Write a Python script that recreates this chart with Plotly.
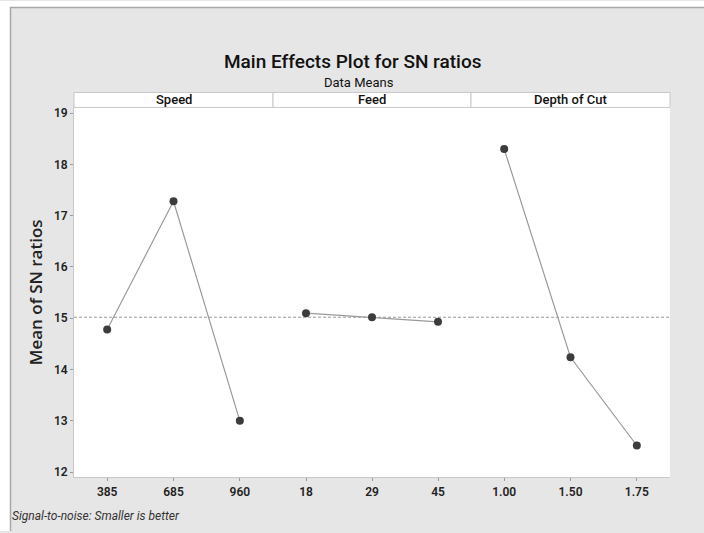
import plotly.graph_objects as go

# ---- data ----
panels = ["Speed", "Feed", "Depth of Cut"]
speed_levels = ["385", "685", "960"]
speed_means = [14.78, 17.28, 13.00]
feed_levels = ["18", "29", "45"]
feed_means = [15.10, 15.02, 14.93]
doc_levels = ["1.00", "1.50", "1.75"]
doc_means = [18.30, 14.24, 12.52]
overall_mean = 15.02
y_ticks = [12, 13, 14, 15, 16, 17, 18, 19]

W, H = 704, 533
FONT = "Roboto, Noto Sans, sans-serif"
div_px = [74, 273, 471, 670]
top_px, bot_px = 107, 479
strip_top_px = 92

def px(x):
    return x / W

def py(y):
    return 1 - y / H

fig = go.Figure()
series = [(speed_levels, speed_means), (feed_levels, feed_means), (doc_levels, doc_means)]
for i, (lv, mv) in enumerate(series):
    xa = "x" if i == 0 else f"x{i+1}"
    fig.add_trace(go.Scatter(
        x=lv, y=mv, mode="lines+markers", xaxis=xa, yaxis="y",
        line=dict(color="#9a9a9a", width=1.2),
        marker=dict(color="#3c3c3c", size=8),
        showlegend=False, cliponaxis=False,
    ))

tickfont = dict(family=FONT, size=12, color="#222222", weight=600)
axis_common = dict(
    type="category", range=[-0.5, 2.5], showgrid=False, zeroline=False,
    showline=True, linecolor="#c8c8c8", linewidth=1, mirror=True,
    ticks="outside", ticklen=3, tickcolor="#9a9a9a",
    tickfont=tickfont, anchor="y", fixedrange=True,
)
layout = dict(
    width=W, height=H,
    margin=dict(l=0, r=0, t=0, b=0),
    paper_bgcolor="#e6e6e6", plot_bgcolor="white",
    yaxis=dict(
        domain=[py(bot_px), py(top_px)], range=[11.9, 19.11],
        tickvals=y_ticks, showgrid=False, zeroline=False,
        showline=True, linecolor="#c8c8c8", linewidth=1,
        ticks="outside", ticklen=3, tickcolor="#9a9a9a",
        tickfont=tickfont, anchor="x", fixedrange=True,
        title=dict(text="Mean of SN ratios",
                   font=dict(family="Open Sans, sans-serif", size=17, color="#222222", weight=600),
                   standoff=6),
    ),
    showlegend=False,
)
for i in range(3):
    key = "xaxis" if i == 0 else f"xaxis{i+1}"
    layout[key] = dict(axis_common, domain=[px(div_px[i]), px(div_px[i + 1])])
fig.update_layout(**layout)

shapes = []
# white outer border strips
shapes.append(dict(type="rect", xref="paper", yref="paper", x0=0, x1=1, y0=py(6), y1=1,
                   fillcolor="white", line=dict(width=0), layer="below"))
shapes.append(dict(type="rect", xref="paper", yref="paper", x0=0, x1=px(10), y0=0, y1=1,
                   fillcolor="white", line=dict(width=0), layer="below"))
shapes.append(dict(type="line", xref="paper", yref="paper", x0=px(10), x1=1, y0=py(6.5), y1=py(6.5),
                   line=dict(color="#a8a8a8", width=1.5)))
shapes.append(dict(type="line", xref="paper", yref="paper", x0=px(10.5), x1=px(10.5), y0=0, y1=py(6),
                   line=dict(color="#a8a8a8", width=1.5)))
# strips
for i in range(3):
    shapes.append(dict(type="rect", xref="paper", yref="paper",
                       x0=px(div_px[i]), x1=px(div_px[i + 1]), y0=py(top_px), y1=py(strip_top_px),
                       fillcolor="white", line=dict(color="#c8c8c8", width=1)))
# mean reference line across all panels
for i in range(3):
    xr = "x" if i == 0 else f"x{i+1}"
    shapes.append(dict(type="line", xref=f"{xr} domain", yref="y", x0=0, x1=1,
                       y0=overall_mean, y1=overall_mean,
                       line=dict(color="#9a9a9a", width=1, dash="3px,2px"), layer="below"))
fig.update_layout(shapes=shapes)

annotations = [
    dict(text="Main Effects Plot for SN ratios", xref="paper", yref="paper", x=0.5, y=py(61),
         showarrow=False, font=dict(family=FONT, size=19, color="#111111", weight=500),
         xanchor="center", yanchor="middle"),
    dict(text="Data Means", xref="paper", yref="paper", x=0.51, y=py(82),
         showarrow=False, font=dict(family=FONT, size=13, color="#111111"),
         xanchor="center", yanchor="middle"),
    dict(text="<i>Signal-to-noise: Smaller is better</i>", xref="paper", yref="paper", x=px(10), y=py(518),
         showarrow=False, font=dict(family=FONT, size=12, color="#333333"),
         xanchor="left", yanchor="middle"),
]
for i, name in enumerate(panels):
    annotations.append(dict(text=name, xref="paper", yref="paper",
                            x=px((div_px[i] + div_px[i + 1]) / 2), y=py((top_px + strip_top_px) / 2),
                            showarrow=False, font=dict(family=FONT, size=13, color="#111111", weight=500),
                            xanchor="center", yanchor="middle"))
fig.update_layout(annotations=annotations)

fig.write_html("out.html", config={"displayModeBar": False},
               post_script="document.body.style.margin='0';document.body.style.overflow='hidden';")
